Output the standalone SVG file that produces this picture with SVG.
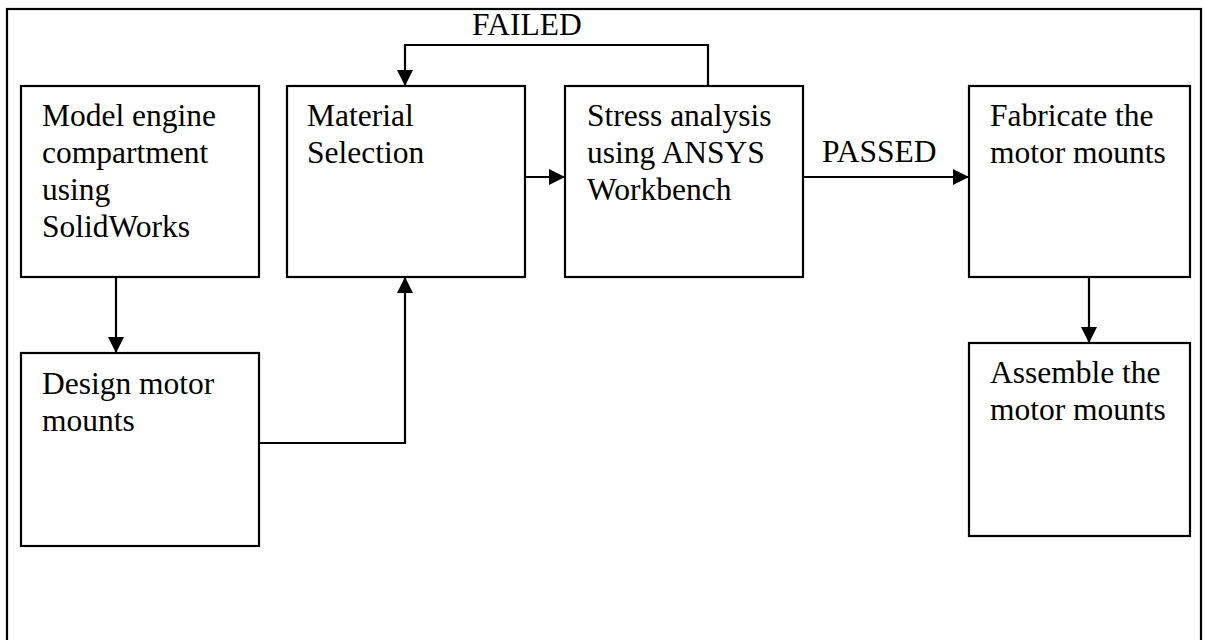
<svg xmlns="http://www.w3.org/2000/svg" width="1205" height="640" viewBox="0 0 1205 640">
<style>
.box{fill:#fff;stroke:#000;stroke-width:2.2}
.ln{fill:none;stroke:#000;stroke-width:2.2}
.t{font-family:"Liberation Serif","Times New Roman",serif;font-size:31.5px;fill:#000}
</style>
<defs>
<marker id="ah" viewBox="0 0 16 16" refX="16" refY="8" markerWidth="16" markerHeight="16" markerUnits="userSpaceOnUse" orient="auto">
<path d="M0,0 L16,8 L0,16 Z" fill="#000"/>
</marker>
</defs>
<rect x="0" y="0" width="1205" height="640" fill="#fff"/>
<rect id="frame" x="7" y="9" width="1194" height="700" fill="none" stroke="#000" stroke-width="2.2"/>
<g id="connectors">
<path class="ln" d="M116,277 V353" marker-end="url(#ah)"/>
<path class="ln" d="M259,443 H405 V277" marker-end="url(#ah)"/>
<path class="ln" d="M525,177 H565" marker-end="url(#ah)"/>
<path class="ln" d="M708,86 V45 H405 V86" marker-end="url(#ah)"/>
<path class="ln" d="M803,177 H969" marker-end="url(#ah)"/>
<path class="ln" d="M1089,277 V343" marker-end="url(#ah)"/>
<text class="t" x="472" y="35">FAILED</text>
<text class="t" x="822" y="162">PASSED</text>
</g>
<g id="model">
<rect class="box" x="21" y="86" width="238" height="191"/>
<text class="t" x="42" y="126">Model engine</text>
<text class="t" x="42" y="163">compartment</text>
<text class="t" x="42" y="200">using</text>
<text class="t" x="42" y="237">SolidWorks</text>
</g>
<g id="material">
<rect class="box" x="287" y="86" width="238" height="191"/>
<text class="t" x="307" y="126">Material</text>
<text class="t" x="307" y="163">Selection</text>
</g>
<g id="stress">
<rect class="box" x="565" y="86" width="238" height="191"/>
<text class="t" x="587" y="126">Stress analysis</text>
<text class="t" x="587" y="163">using ANSYS</text>
<text class="t" x="587" y="200">Workbench</text>
</g>
<g id="fabricate">
<rect class="box" x="969" y="86" width="221" height="191"/>
<text class="t" x="990" y="126">Fabricate the</text>
<text class="t" x="990" y="163">motor mounts</text>
</g>
<g id="design">
<rect class="box" x="21" y="353" width="238" height="193"/>
<text class="t" x="42" y="394">Design motor</text>
<text class="t" x="42" y="431">mounts</text>
</g>
<g id="assemble">
<rect class="box" x="969" y="343" width="221" height="193"/>
<text class="t" x="990" y="383">Assemble the</text>
<text class="t" x="990" y="420">motor mounts</text>
</g>
</svg>
